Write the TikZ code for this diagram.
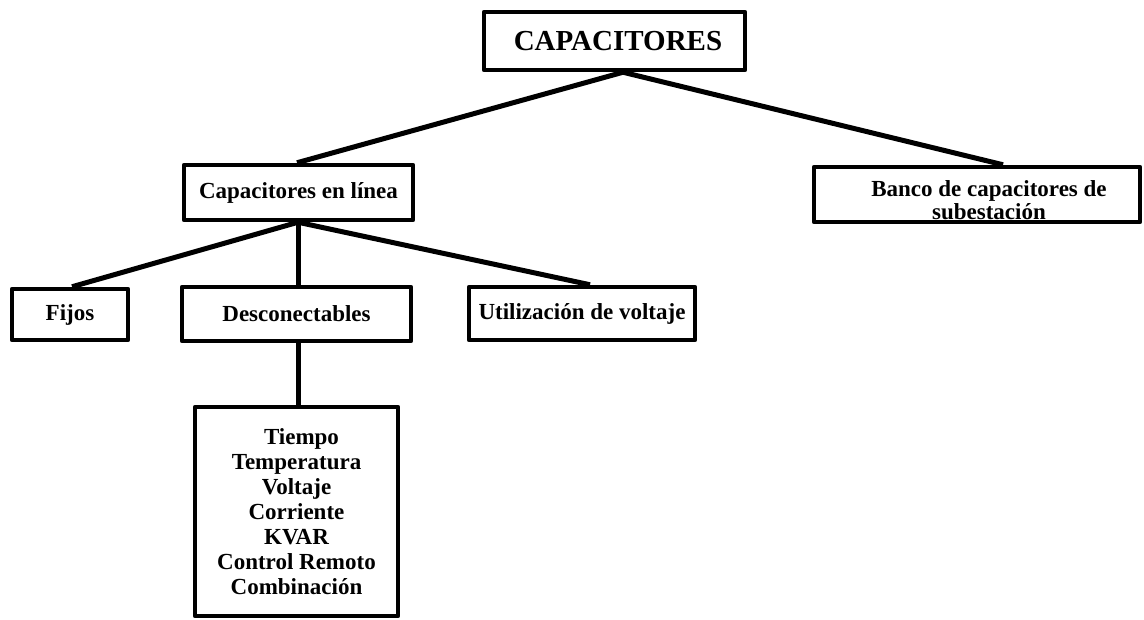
\documentclass[tikz,border=0pt]{standalone}
\usepackage{fontspec}
\setmainfont{Liberation Serif}
\begin{document}
\begin{tikzpicture}[x=1pt,y=-1pt,
  box/.style={draw, line width=4.5pt, line join=round, rectangle, inner sep=0pt, align=center,
    font=\bfseries\fontsize{23}{25}\selectfont},
  conn/.style={line width=5pt}]
\useasboundingbox (0,0) rectangle (1144,620);
\node[box, minimum width=261pt, minimum height=58pt, font=\bfseries\fontsize{29}{31}\selectfont] (title) at (614.5,41) {\hspace*{7pt}CAPACITORES};
\node[box, minimum width=229pt, minimum height=55pt] (linea) at (298.5,192.5) {Capacitores en línea};
\node[box, minimum width=326pt, minimum height=55pt, font=\bfseries\fontsize{23}{23}\selectfont] (banco) at (977,194.5) {\rule{0pt}{28pt}\hspace*{24pt}Banco de capacitores de\\\hspace*{24pt}subestación};
\node[box, minimum width=116pt, minimum height=51pt] (fijos) at (70,314.5) {Fijos};
\node[box, minimum width=229pt, minimum height=54pt] (desc) at (296.5,314) {Desconectables};
\node[box, minimum width=226pt, minimum height=53pt] (util) at (582,313.5) {Utilización de voltaje};
\node[box, minimum width=203pt, minimum height=209pt] (lista) at (296.5,511.5) {\hspace*{10pt}Tiempo\\Temperatura\\Voltaje\\Corriente\\KVAR\\Control Remoto\\Combinación};
\draw[conn] ([xshift=8.5pt]title.south) -- ([xshift=-1.5pt]linea.north);
\draw[conn] ([xshift=8.5pt]title.south) -- ([xshift=26pt]banco.north);
\draw[conn] ([xshift=-0.5pt]linea.south) -- ([xshift=2pt]fijos.north);
\draw[conn] ([xshift=-0.5pt]linea.south) -- ([xshift=1.5pt]desc.north);
\draw[conn] ([xshift=-0.5pt]linea.south) -- ([xshift=8pt]util.north);
\draw[conn] ([xshift=1.5pt]desc.south) -- ([xshift=1.5pt]lista.north);
\end{tikzpicture}
\end{document}
